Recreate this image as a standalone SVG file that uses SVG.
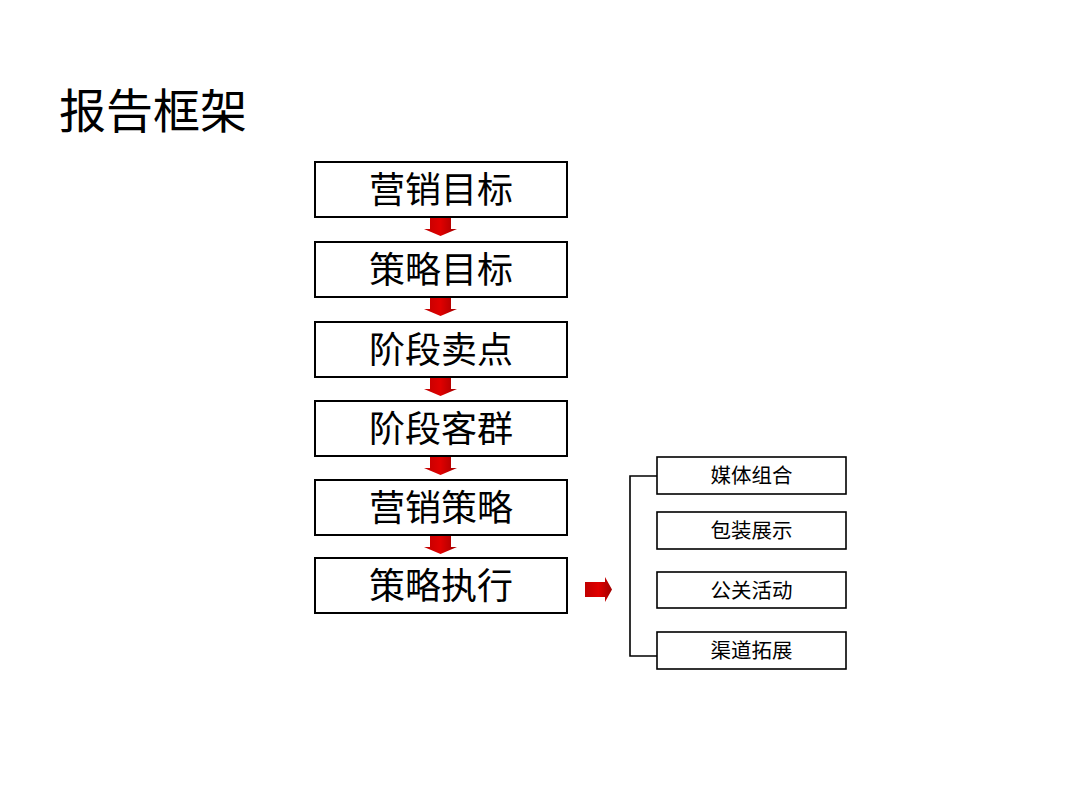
<svg xmlns="http://www.w3.org/2000/svg" width="1080" height="810" viewBox="0 0 1080 810">
<style>
.bg{fill:#ffffff}
.main rect{fill:#ffffff;stroke:#000000;stroke-width:2}
.main text{font-family:"Liberation Sans","Noto Sans CJK SC",sans-serif;font-size:36px;fill:#000000;text-anchor:middle}
.sub rect{fill:#ffffff;stroke:#000000;stroke-width:1.6}
.sub text{font-family:"Liberation Sans","Noto Sans CJK SC",sans-serif;font-size:20.5px;fill:#000000;text-anchor:middle}
.title{font-family:"Liberation Sans","Noto Sans CJK SC",sans-serif;font-size:47px;fill:#000000}
.arrow{fill:url(#redgrad)}
.line{fill:none;stroke:#000000;stroke-width:1.6}
</style>
<defs>
<linearGradient id="redgrad" x1="0" y1="0" x2="1" y2="0">
<stop offset="0" stop-color="#c00000"/>
<stop offset="0.5" stop-color="#e00000"/>
<stop offset="1" stop-color="#a00000"/>
</linearGradient>
<path id="down" d="M-10.5,0 H10.5 V11 H16.5 L0,18 L-16.5,11 H-10.5 Z"/>
</defs>
<rect class="bg" x="0" y="0" width="1080" height="810"/>
<text class="title" x="59" y="128">报告框架</text>

<g id="node-1" class="main"><rect x="315" y="162" width="252" height="55"/><text x="441" y="203">营销目标</text></g>
<g id="node-2" class="main"><rect x="315" y="242" width="252" height="55"/><text x="441" y="283">策略目标</text></g>
<g id="node-3" class="main"><rect x="315" y="322" width="252" height="55"/><text x="441" y="363">阶段卖点</text></g>
<g id="node-4" class="main"><rect x="315" y="401" width="252" height="55"/><text x="441" y="442">阶段客群</text></g>
<g id="node-5" class="main"><rect x="315" y="480" width="252" height="55"/><text x="441" y="521">营销策略</text></g>
<g id="node-6" class="main"><rect x="315" y="558" width="252" height="55"/><text x="441" y="599">策略执行</text></g>

<g id="node-7" class="sub"><rect x="657" y="457" width="189" height="37"/><text x="751.5" y="483">媒体组合</text></g>
<g id="node-8" class="sub"><rect x="657" y="512" width="189" height="37"/><text x="751.5" y="538">包装展示</text></g>
<g id="node-9" class="sub"><rect x="657" y="572" width="189" height="36"/><text x="751.5" y="597.5">公关活动</text></g>
<g id="node-10" class="sub"><rect x="657" y="632" width="189" height="37"/><text x="751.5" y="658">渠道拓展</text></g>

<g id="connectors">
<use href="#down" class="arrow" x="440.5" y="218"/>
<use href="#down" class="arrow" x="440.5" y="298"/>
<use href="#down" class="arrow" x="440.5" y="378"/>
<use href="#down" class="arrow" x="440.5" y="457"/>
<use href="#down" class="arrow" x="440.5" y="536"/>
<path class="arrow" d="M585,582 H605 V577 L612,589.5 L605,602 V597 H585 Z"/>
<path class="line" d="M657,476 H630 V656 H657"/>
</g>
</svg>
